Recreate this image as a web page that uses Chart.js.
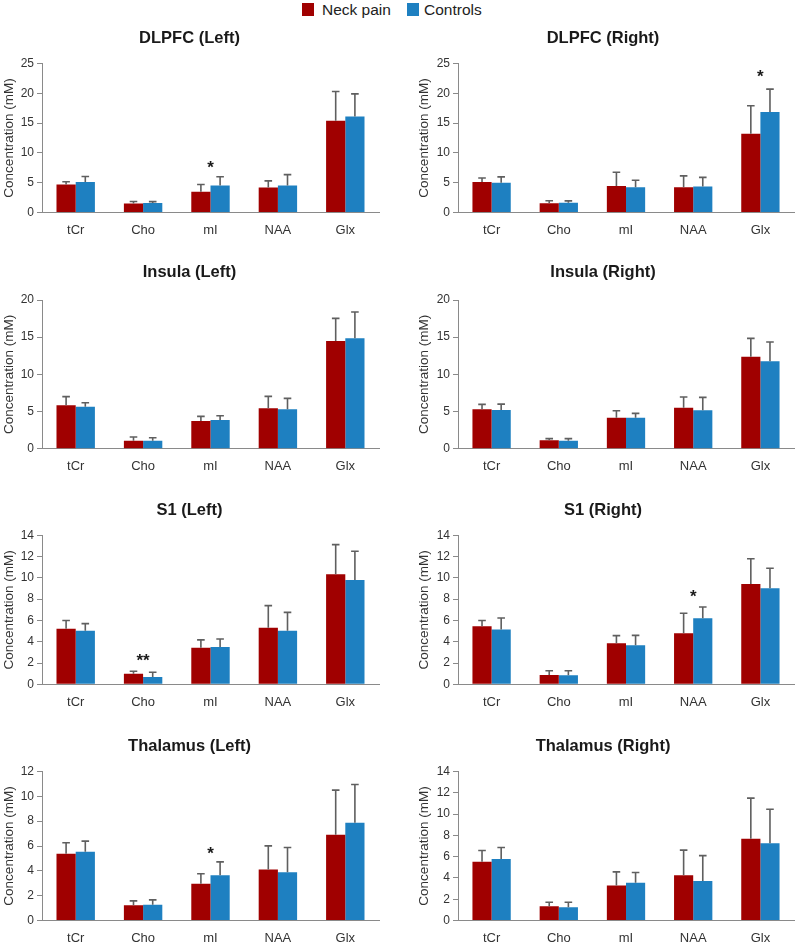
<!DOCTYPE html>
<html>
<head>
<meta charset="utf-8">
<script src="https://cdn.jsdelivr.net/npm/chart.js@4.4.0/dist/chart.umd.min.js"></script>
<style>
  html,body{margin:0;padding:0;background:#ffffff;}
  body{width:796px;height:945px;position:relative;overflow:hidden;font-family:"Liberation Sans",Arial,sans-serif;}
  .panel{position:absolute;}
  .sw{position:absolute;width:12px;height:13px;top:3px;}
  .lt{position:absolute;top:0;font-size:15.5px;line-height:19px;color:#222;white-space:nowrap;}
</style>
</head>
<body>
<div id="legend">
  <span class="sw" style="left:302px;background:#A00000"></span>
  <span class="lt" style="left:322px">Neck pain</span>
  <span class="sw" style="left:407px;background:#1E80C1"></span>
  <span class="lt" style="left:424px">Controls</span>
</div>
<script>
// ---------------- DATA ----------------
const categories = ['tCr', 'Cho', 'mI', 'NAA', 'Glx'];
const groupNames = ['Neck pain', 'Controls'];
const panelTitles = ['DLPFC (Left)', 'DLPFC (Right)', 'Insula (Left)', 'Insula (Right)',
                     'S1 (Left)', 'S1 (Right)', 'Thalamus (Left)', 'Thalamus (Right)'];
const axisMax  = [25, 25, 20, 20, 14, 14, 12, 14];
const axisStep = [5, 5, 5, 5, 2, 2, 2, 2];

const dlpfcLeftNeckPain     = [4.7, 1.5, 3.5, 4.2, 15.4];
const dlpfcLeftNeckPainSD   = [0.45, 0.34, 1.2, 1.1, 4.9];
const dlpfcLeftControls     = [5.1, 1.6, 4.55, 4.55, 16.1];
const dlpfcLeftControlsSD   = [0.95, 0.22, 1.45, 1.8, 3.8];

const dlpfcRightNeckPain    = [5.1, 1.56, 4.46, 4.24, 13.2];
const dlpfcRightNeckPainSD  = [0.7, 0.4, 2.3, 1.9, 4.7];
const dlpfcRightControls    = [5.0, 1.62, 4.24, 4.35, 16.85];
const dlpfcRightControlsSD  = [0.97, 0.33, 1.16, 1.55, 3.85];

const insulaLeftNeckPain    = [5.83, 1.08, 3.72, 5.43, 14.48];
const insulaLeftNeckPainSD  = [1.17, 0.49, 0.63, 1.61, 3.05];
const insulaLeftControls    = [5.65, 1.08, 3.86, 5.29, 14.84];
const insulaLeftControlsSD  = [0.54, 0.4, 0.58, 1.48, 3.55];

const insulaRightNeckPain   = [5.29, 1.12, 4.17, 5.52, 12.38];
const insulaRightNeckPainSD = [0.67, 0.23, 0.94, 1.43, 2.46];
const insulaRightControls   = [5.2, 1.08, 4.17, 5.16, 11.75];
const insulaRightControlsSD = [0.8, 0.27, 0.58, 1.74, 2.6];

const s1LeftNeckPain        = [5.23, 1.0, 3.44, 5.32, 10.33];
const s1LeftNeckPainSD      = [0.77, 0.22, 0.73, 2.07, 2.79];
const s1LeftControls        = [5.04, 0.69, 3.5, 5.04, 9.8];
const s1LeftControlsSD      = [0.66, 0.44, 0.76, 1.72, 2.7];

const s1RightNeckPain       = [5.45, 0.88, 3.85, 4.79, 9.43];
const s1RightNeckPainSD     = [0.55, 0.4, 0.72, 1.88, 2.37];
const s1RightControls       = [5.14, 0.85, 3.66, 6.2, 9.02];
const s1RightControlsSD     = [1.09, 0.43, 0.94, 1.07, 1.88];

const thalamusLeftNeckPain    = [5.37, 1.23, 2.95, 4.1, 6.9];
const thalamusLeftNeckPainSD  = [0.89, 0.35, 0.81, 1.91, 3.6];
const thalamusLeftControls    = [5.53, 1.26, 3.65, 3.89, 7.87];
const thalamusLeftControlsSD  = [0.86, 0.4, 1.07, 1.99, 3.08];

const thalamusRightNeckPain   = [5.51, 1.35, 3.29, 4.26, 7.67];
const thalamusRightNeckPainSD = [1.07, 0.37, 1.28, 2.35, 3.83];
const thalamusRightControls   = [5.79, 1.25, 3.54, 3.7, 7.27];
const thalamusRightControlsSD = [1.07, 0.47, 0.97, 2.4, 3.19];

// significance markers: panel index, category, label, value height
const sigPanels     = [0, 1, 4, 5, 6];
const sigCategories = ['mI', 'Glx', 'Cho', 'NAA', 'mI'];
const sigLabels     = ['*', '*', '**', '*', '*'];
const sigHeights    = [8.2, 23.5, 2.6, 8.7, 5.75];

// --------------- assembly ---------------
const neckSeries = [dlpfcLeftNeckPain, dlpfcRightNeckPain, insulaLeftNeckPain, insulaRightNeckPain,
                    s1LeftNeckPain, s1RightNeckPain, thalamusLeftNeckPain, thalamusRightNeckPain];
const neckSD     = [dlpfcLeftNeckPainSD, dlpfcRightNeckPainSD, insulaLeftNeckPainSD, insulaRightNeckPainSD,
                    s1LeftNeckPainSD, s1RightNeckPainSD, thalamusLeftNeckPainSD, thalamusRightNeckPainSD];
const ctrlSeries = [dlpfcLeftControls, dlpfcRightControls, insulaLeftControls, insulaRightControls,
                    s1LeftControls, s1RightControls, thalamusLeftControls, thalamusRightControls];
const ctrlSD     = [dlpfcLeftControlsSD, dlpfcRightControlsSD, insulaLeftControlsSD, insulaRightControlsSD,
                    s1LeftControlsSD, s1RightControlsSD, thalamusLeftControlsSD, thalamusRightControlsSD];

const COLORS = ['#A00000', '#1E80C1'];
const FONT = '"Liberation Sans", Arial, sans-serif';

// layout (pixel geometry of the figure)
const rows = [
  {title: 38.5,  top: 63.5,  bottom: 212.5},
  {title: 272.5, top: 300,   bottom: 448.7},
  {title: 510,   top: 535.3, bottom: 684.3},
  {title: 746.3, top: 771.5, bottom: 920.5}
];
const cols = [
  {left: 0,   width: 398, padL: 0,  yW: 42, padR: 19, yTitlePad: 1},
  {left: 398, width: 398, padL: 14, yW: 46, padR: 2,  yTitlePad: 4}
];
const TITLE_SIZE = 16.5, TITLE_LH = TITLE_SIZE * 1.2, XH = 28;

const errorBarPlugin = {
  id: 'errorBars',
  afterDatasetsDraw(chart) {
    const ctx = chart.ctx, ys = chart.scales.y;
    ctx.save();
    ctx.strokeStyle = '#5f5f5f';
    ctx.lineWidth = 1.6;
    chart.data.datasets.forEach((ds, i) => {
      const meta = chart.getDatasetMeta(i);
      meta.data.forEach((bar, j) => {
        const top = ys.getPixelForValue(ds.data[j] + ds.errors[j]);
        ctx.beginPath();
        ctx.moveTo(bar.x, bar.y);
        ctx.lineTo(bar.x, top);
        ctx.moveTo(bar.x - 3.8, top);
        ctx.lineTo(bar.x + 3.8, top);
        ctx.stroke();
      });
    });
    ctx.restore();
  }
};

const sigPlugin = {
  id: 'sigMarks',
  afterDatasetsDraw(chart, args, opts) {
    const marks = opts.marks || [];
    const ctx = chart.ctx;
    ctx.save();
    ctx.fillStyle = '#1a1a1a';
    ctx.font = 'bold 17px ' + FONT;
    ctx.textAlign = 'center';
    ctx.textBaseline = 'alphabetic';
    marks.forEach(m => {
      const x = chart.scales.x.getPixelForValue(categories.indexOf(m.category));
      const y = chart.scales.y.getPixelForValue(m.at);
      ctx.fillText(m.label, x, y + 0.58 * 17);
    });
    ctx.restore();
  }
};

for (let p = 0; p < 8; p++) {
  const row = rows[Math.floor(p / 2)], col = cols[p % 2];
  const canvasTop = Math.round(row.title - 13.9);
  const p1 = row.title - TITLE_LH / 2 - canvasTop;
  const p2 = row.top - canvasTop - p1 - TITLE_LH;
  const h = Math.ceil(row.bottom + XH - canvasTop);
  const padB = h - (row.bottom + XH - canvasTop);

  const div = document.createElement('div');
  div.className = 'panel';
  div.style.left = col.left + 'px';
  div.style.top = canvasTop + 'px';
  const cv = document.createElement('canvas');
  cv.width = col.width; cv.height = h;
  cv.style.width = col.width + 'px'; cv.style.height = h + 'px';
  div.appendChild(cv);
  document.body.appendChild(div);

  const marks = [];
  sigPanels.forEach((sp, k) => {
    if (sp === p) marks.push({category: sigCategories[k], label: sigLabels[k], at: sigHeights[k]});
  });

  new Chart(cv, {
    type: 'bar',
    data: {
      labels: categories,
      datasets: [
        {label: groupNames[0], data: neckSeries[p], errors: neckSD[p], backgroundColor: COLORS[0],
         categoryPercentage: 0.57, barPercentage: 1.0, borderWidth: 0},
        {label: groupNames[1], data: ctrlSeries[p], errors: ctrlSD[p], backgroundColor: COLORS[1],
         categoryPercentage: 0.57, barPercentage: 1.0, borderWidth: 0}
      ]
    },
    options: {
      responsive: false,
      devicePixelRatio: 1,
      animation: false,
      layout: {padding: {left: col.padL, right: col.padR, top: 0, bottom: padB}},
      plugins: {
        legend: {display: false},
        tooltip: {enabled: false},
        title: {
          display: true, text: panelTitles[p], color: '#1a1a1a',
          font: {family: FONT, size: TITLE_SIZE, weight: 'bold', lineHeight: 1.2},
          padding: {top: p1, bottom: p2}
        },
        sigMarks: {marks: marks}
      },
      scales: {
        x: {
          grid: {display: false, drawTicks: false},
          border: {display: true, color: '#8a8a8a', width: 1},
          ticks: {color: '#333', font: {family: FONT, size: 13}, padding: 10, maxRotation: 0},
          afterFit: s => { s.height = XH; }
        },
        y: {
          min: 0, max: axisMax[p],
          grid: {display: true, drawOnChartArea: false, drawTicks: true, tickLength: 5, color: '#8a8a8a'},
          border: {display: true, color: '#8a8a8a', width: 1},
          ticks: {stepSize: axisStep[p], color: '#333', font: {family: FONT, size: 12}, padding: 3},
          title: {display: true, text: 'Concentration (mM)', color: '#333',
                  font: {family: FONT, size: 13.5}, padding: {top: col.yTitlePad, bottom: 0}},
          afterFit: s => { s.width = col.yW; }
        }
      }
    },
    plugins: [errorBarPlugin, sigPlugin]
  });
}
</script>
</body>
</html>
